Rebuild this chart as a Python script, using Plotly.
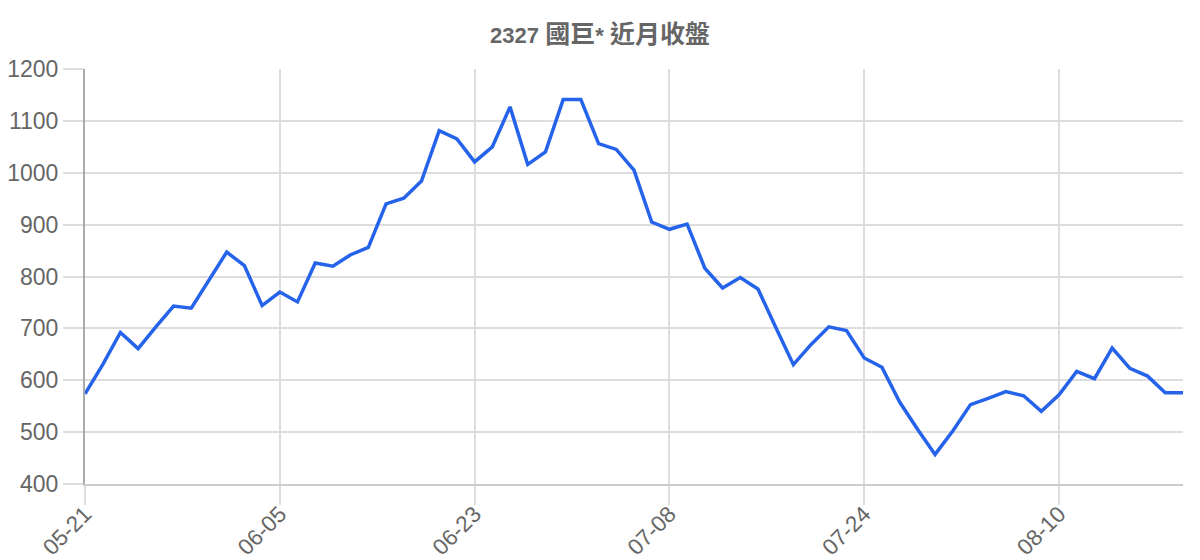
import plotly.graph_objects as go

title_code = "2327"
title_name = "國巨"
title_suffix = "近月收盤"
tick_labels = ["05-21", "06-05", "06-23", "07-08", "07-24", "08-10"]
tick_every = 11
close = [
    574, 630, 692, 661, 703, 743, 739, 792, 847, 821,
    744, 770, 751, 826, 820, 842, 856, 940, 951, 984,
    1081, 1065, 1021, 1050, 1127, 1016, 1040, 1141, 1141, 1056,
    1045, 1005, 905, 891, 901, 816, 778, 798, 776, 702,
    630, 669, 703, 696, 643, 625, 558, 506, 457, 502,
    553, 565, 578, 570, 540, 572, 617, 603, 662, 623,
    608, 576, 576,
]
x_idx = list(range(len(close)))
tickvals = [i * tick_every for i in range(len(tick_labels))]

font_family = "Liberation Sans, Arial, Noto Sans CJK TC, sans-serif"
cjk = "<span style='font-size:25px'>%s</span>"
title_html = "<b>%s %s* %s</b>" % (title_code, cjk % title_name, cjk % title_suffix)

fig = go.Figure()
fig.add_trace(go.Scatter(
    x=x_idx, y=close, mode="lines",
    line=dict(color="#2563eb", width=3.5),
    hoverinfo="x+y", showlegend=False,
))

fig.update_layout(
    width=1200, height=560,
    margin=dict(l=85, r=17, t=69, b=76),
    paper_bgcolor="white", plot_bgcolor="white",
    font=dict(family=font_family, color="#666666"),
    title=dict(text=title_html, x=0.5, xanchor="center",
               y=1 - 35 / 560, yanchor="middle",
               font=dict(size=22, color="#666666", family=font_family)),
)
fig.update_xaxes(
    range=[0, len(close) - 1], automargin=False,
    tickmode="array", tickvals=tickvals, ticktext=tick_labels,
    tickangle=-45, tickfont=dict(size=22.5, color="#666666"),
    ticklabelstandoff=-13,
    showgrid=True, gridcolor="#dddddd", gridwidth=1.5,
    ticks="outside", ticklen=19, tickcolor="#dddddd", tickwidth=1.5,
    showline=True, linecolor="#cccccc", linewidth=2,
    zeroline=False,
)
fig.update_yaxes(
    range=[400, 1200], dtick=100, tick0=400, automargin=False,
    tickfont=dict(size=23, color="#666666"),
    showgrid=True, gridcolor="#dddddd", gridwidth=1.5,
    ticks="outside", ticklen=20, tickcolor="#dddddd", tickwidth=1.5,
    showline=True, linecolor="#aaaaaa", linewidth=2,
    zeroline=False,
)

fig.write_html("out.html", config={"displayModeBar": False},
               post_script="document.body.style.margin='0';")
